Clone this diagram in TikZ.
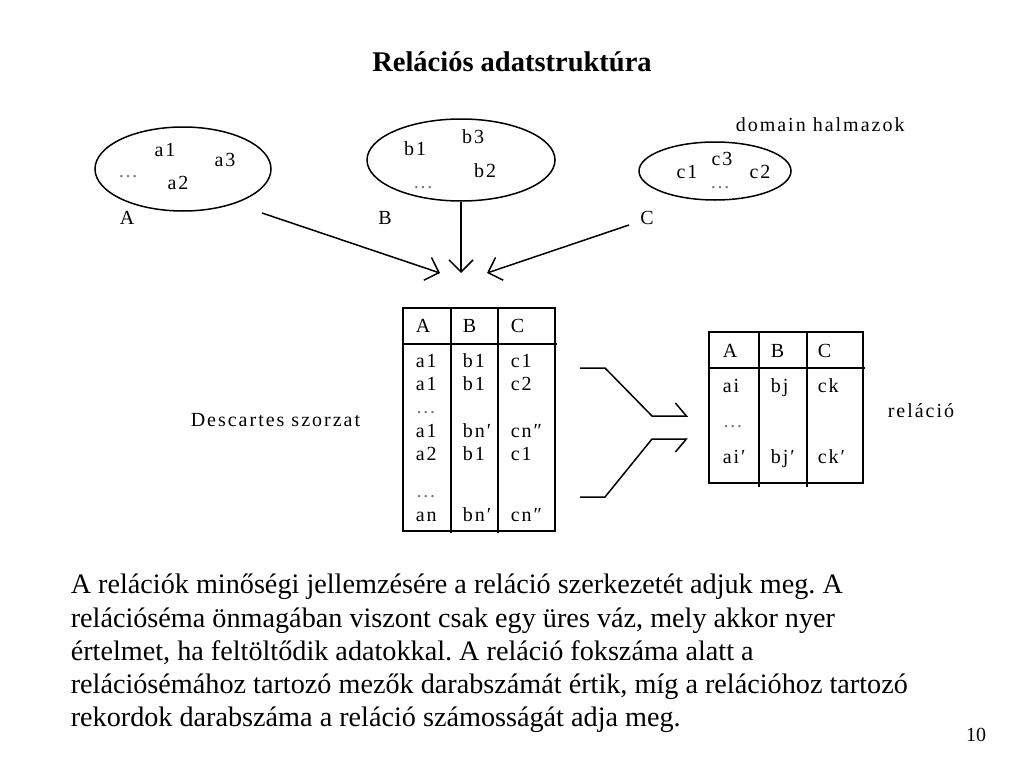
\documentclass[tikz,border=0pt]{standalone}
\usepackage{fontspec}
\setmainfont{Liberation Serif}
\newfontfamily\sketchfont[LetterSpace=10]{Liberation Serif}
\usetikzlibrary{shapes.geometric,arrows.meta}
\newcommand\fewdots{{\color{black!55}\dots}}
\frenchspacing
\begin{document}
\begin{tikzpicture}[x=1pt,y=-1pt,line width=1.5pt,
  lbl/.style={inner sep=0pt,font=\sketchfont\fontsize{20}{20}\selectfont},
  cell/.style={lbl,anchor=base west},
  dom/.style={draw,ellipse,inner sep=0pt},
  feed/.style={-{Straight Barb[length=12pt,width=24pt]}},
  halfup/.style={-{Straight Barb[harpoon,length=11pt,width=26pt]}},
  halfdown/.style={-{Straight Barb[harpoon,swap,length=11pt,width=26pt]}}]
 \useasboundingbox (0,0) rectangle (1024,768);
 \node[inner sep=0pt,anchor=base,font=\fontsize{28.5}{28.5}\selectfont\bfseries] (title) at (512,71) {Relációs adatstruktúra};
 \node[dom,minimum width=176pt,minimum height=84pt] (setA) at (183,169) {};
 \node[dom,minimum width=188pt,minimum height=82pt] (setB) at (461,160) {};
 \node[dom,minimum width=152pt,minimum height=58pt] (setC) at (715,171) {};
 \node[lbl] (a1) at (165,150) {a1};
 \node[lbl] (a3) at (225,160) {a3};
 \node[lbl] (a2) at (178,183) {a2};
 \node[lbl] (an) at (128,177) {\fewdots};
 \node[lbl] (b1) at (415,149) {b1};
 \node[lbl] (b3) at (473,137) {b3};
 \node[lbl] (b2) at (485,171) {b2};
 \node[lbl] (bn) at (423,188) {\fewdots};
 \node[lbl] (c1) at (687,172) {c1};
 \node[lbl] (c3) at (722,159) {c3};
 \node[lbl] (c2) at (760,172) {c2};
 \node[lbl] (cn) at (720,188) {\fewdots};
 \node[lbl] (nameA) at (127,218) {A};
 \node[lbl] (nameB) at (385,218) {B};
 \node[lbl] (nameC) at (647,218) {C};
 \node[cell] (domains) at (735,131) {domain halmazok};
 \coordinate (tailA) at (262,213);
 \coordinate (tailC) at (629,225);
 \coordinate (tipA) at (440,273);
 \coordinate (tipB) at (461,273);
 \coordinate (tipC) at (487,273);
 \draw[feed] (tailA) -- (tipA);
 \draw[feed] (setB.south) -- (tipB);
 \draw[feed] (tailC) -- (tipC);
 \draw (403,308) rectangle (555,531);
 \draw (403,344) -- (557,344);
 \draw (451,308) -- (451,533);
 \draw (498,308) -- (498,533);
 \foreach \t/\x/\y [count=\i] in {A/415/332,B/462/332,C/510/332,
   a1/415/367,b1/462/367,c1/510/367,a1/415/390,b1/462/390,c2/510/390,
   \fewdots/415/413,a1/415/437,bn′/462/437,cn″/510/437,
   a2/415/460,b1/462/460,c1/510/460,\fewdots/415/497,
   an/415/521,bn′/462/521,cn″/510/521}
   \node[cell] (prod\i) at (\x,\y) {\t};
 \node[cell] (prodname) at (190,426) {Descartes szorzat};
 \draw (709,332) rectangle (863,483);
 \draw (709,368) -- (865,368);
 \draw (759,332) -- (759,487);
 \draw (807,332) -- (807,487);
 \foreach \t/\x/\y [count=\i] in {A/722/357,B/770/357,C/817/357,
   ai/722/392,bj/770/392,ck/817/392,\fewdots/722/427,
   ai′/722/463,bj′/770/463,ck′/817/463}
   \node[cell] (rel\i) at (\x,\y) {\t};
 \node[cell] (relname) at (887,417) {reláció};
 \coordinate (selA) at (580,368);
 \coordinate (selB) at (580,497);
 \draw[halfup] (selA) -- ++(25,0) -- ++(47,48) -- ++(36,0);
 \draw[halfdown] (selB) -- ++(25,0) -- ++(47,-58) -- ++(36,0);
 \node[inner sep=0pt,anchor=north west,align=left,
   font=\fontsize{28.2}{33.2}\selectfont] (text) at (70,573.5)
   {A relációk minőségi jellemzésére a reláció szerkezetét adjuk meg. A\\
    relációséma önmagában viszont csak egy üres váz, mely akkor nyer\\
    értelmet, ha feltöltődik adatokkal. A reláció fokszáma alatt a\\
    relációsémához tartozó mezők darabszámát értik, míg a relációhoz tartozó\\
    rekordok darabszáma a reláció számosságát adja meg.};
 \node[inner sep=0pt,font=\fontsize{20}{20}\selectfont] (page) at (976,735) {10};
\end{tikzpicture}
\end{document}
